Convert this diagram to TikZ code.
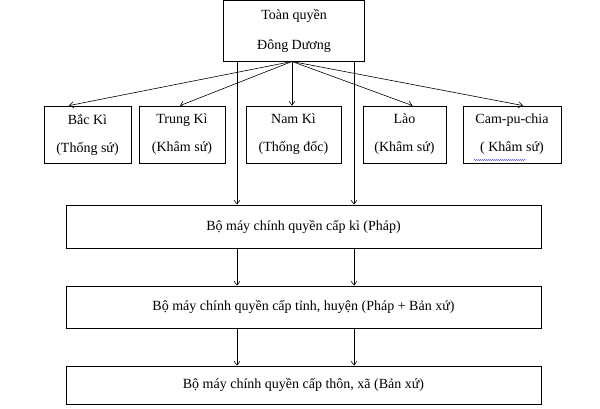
\documentclass[tikz,border=0pt]{standalone}
\usepackage{fontspec}
\setmainfont{Liberation Serif}
\usetikzlibrary{arrows.meta,decorations.pathmorphing}
\begin{document}
\begin{tikzpicture}[x=1pt,y=-1pt,
  box/.style={draw,thick,inner sep=0pt,align=center,font=\fontsize{14}{28}\selectfont},
  arr/.style={-{Straight Barb[length=4pt,width=6pt]},semithick}]
\useasboundingbox (0,0) rectangle (600,409);
\node[box,minimum width=141pt,minimum height=61pt,font=\fontsize{14}{30}\selectfont] (top) at (294,31) {Toàn quyền\\Đông Dương};
\node[box,minimum width=87pt,minimum height=57pt] (bk) at (87.5,134.5) {Bắc Kì\\(Thống sứ)};
\node[box,minimum width=86pt,minimum height=57pt] (tk) at (182,134.5) {Trung Kì\\(Khâm sứ)};
\node[box,minimum width=95pt,minimum height=57pt] (nk) at (293.5,134.5) {Nam Kì\\(Thống đốc)};
\node[box,minimum width=83pt,minimum height=57pt] (lao) at (404.5,134.5) {Lào\\(Khâm sứ)};
\node[box,minimum width=98pt,minimum height=57pt] (cam) at (512,134.5) {Cam-pu-chia\\( Khâm sứ)};
\node[box,minimum width=475pt,minimum height=43pt] (b1) at (303.5,226.5) {Bộ máy chính quyền cấp kì (Pháp)};
\node[box,minimum width=475pt,minimum height=42pt] (b2) at (303.5,307) {Bộ máy chính quyền cấp tỉnh, huyện (Pháp + Bản xứ)};
\node[box,minimum width=475pt,minimum height=38pt] (b3) at (303.5,385) {Bộ máy chính quyền cấp thôn, xã (Bản xứ)};
\coordinate (s) at (292,61.5);
\draw[arr] (s) -- (bk.north west -| 69,0);
\draw[arr] (s) -- ([xshift=-2pt]tk.north);
\draw[arr] (s) -- (nk.north -| 292,0);
\draw[arr] (s) -- ([xshift=8pt]lao.north);
\draw[arr] (s) -- ([xshift=11pt]cam.north);
\foreach \x in {237,354}{
  \draw[arr] (top.south -| \x,0) -- (b1.north -| \x,0);
  \draw[arr] (b1.south -| \x,0) -- (b2.north -| \x,0);
  \draw[arr] (b2.south -| \x,0) -- (b3.north -| \x,0);
}
\draw[blue!70,decorate,decoration={snake,amplitude=0.6pt,segment length=2pt}] (474,160) -- (526,160);
\end{tikzpicture}
\end{document}
